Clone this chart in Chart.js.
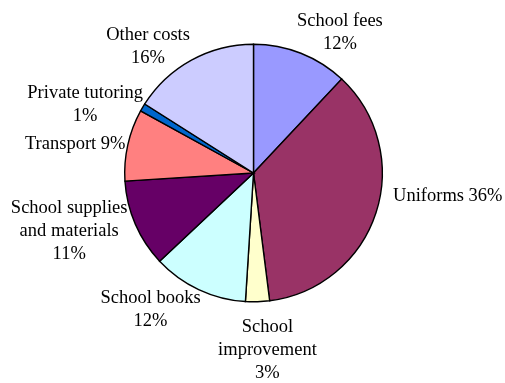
<!DOCTYPE html>
<html>
<head>
<meta charset="utf-8">
<script src="https://cdn.jsdelivr.net/npm/chart.js@4"></script>
<style>
  html, body { margin: 0; padding: 0; background: #ffffff; }
  #wrap { width: 505px; height: 383px; position: relative; }
</style>
</head>
<body>
<div id="wrap"><canvas id="c" width="505" height="383"></canvas></div>
<script>
// Share of household education spending by item
const categories = [
  'School fees',
  'Uniforms',
  'School improvement',
  'School books',
  'School supplies and materials',
  'Transport',
  'Private tutoring',
  'Other costs'
];
const shares = [12, 36, 3, 12, 11, 9, 1, 16];
const sliceColors = ['#9999FF', '#993366', '#FFFFCC', '#CCFFFF', '#660066', '#FF8080', '#0066CC', '#CCCCFF'];

// How each label's text is broken into lines (the % value is appended from the data)
const labelLines = [
  ['School fees'],
  ['Uniforms'],
  ['School', 'improvement'],
  ['School books'],
  ['School supplies', 'and materials'],
  ['Transport'],
  ['Private tutoring'],
  ['Other costs']
];
// Whether the value sits on the same line as the name
const valueInline = [false, true, false, false, false, true, false, false];
// Label block centre, offset from the point where the slice's mid-angle meets the rim
const labelOffsets = [
  [39, -21.6], [71.8, -18], [9.9, 46.8], [-48.1, 19.1],
  [-66.1, 6.1], [-52.6, -1.9], [-57.5, -3.5], [-43.4, -14.4]
];

const FONT = '18.5px "Liberation Serif", "Times New Roman", serif';
const LINE_H = 23;

const outsideLabels = {
  id: 'outsideLabels',
  afterDatasetsDraw(chart) {
    const ctx = chart.ctx;
    const meta = chart.getDatasetMeta(0);
    ctx.save();
    ctx.font = FONT;
    ctx.fillStyle = '#000000';
    ctx.textAlign = 'center';
    ctx.textBaseline = 'alphabetic';
    meta.data.forEach((arc, i) => {
      const p = arc.getProps(['x', 'y', 'startAngle', 'endAngle', 'outerRadius'], true);
      const mid = (p.startAngle + p.endAngle) / 2;
      const ex = p.x + Math.cos(mid) * p.outerRadius;
      const ey = p.y + Math.sin(mid) * p.outerRadius;
      const cx = ex + labelOffsets[i][0];
      const cy = ey + labelOffsets[i][1];
      const pct = shares[i] + '%';
      const lines = labelLines[i].slice();
      if (valueInline[i]) {
        lines[lines.length - 1] = lines[lines.length - 1] + ' ' + pct;
      } else {
        lines.push(pct);
      }
      const n = lines.length;
      const firstBase = cy - (n - 1) * LINE_H / 2 + 6;
      lines.forEach((t, k) => ctx.fillText(t, cx, firstBase + k * LINE_H));
    });
    ctx.restore();
  }
};

new Chart(document.getElementById('c'), {
  type: 'pie',
  data: {
    labels: categories,
    datasets: [{
      data: shares,
      backgroundColor: sliceColors,
      borderColor: '#000000',
      borderWidth: 1.4,
      borderJoinStyle: 'miter'
    }]
  },
  options: {
    responsive: false,
    animation: false,
    events: [],
    layout: { padding: { left: 124, right: 122, top: 43.5, bottom: 80.5 } },
    plugins: {
      legend: { display: false },
      tooltip: { enabled: false },
      title: { display: false }
    }
  },
  plugins: [outsideLabels]
});
</script>
</body>
</html>
